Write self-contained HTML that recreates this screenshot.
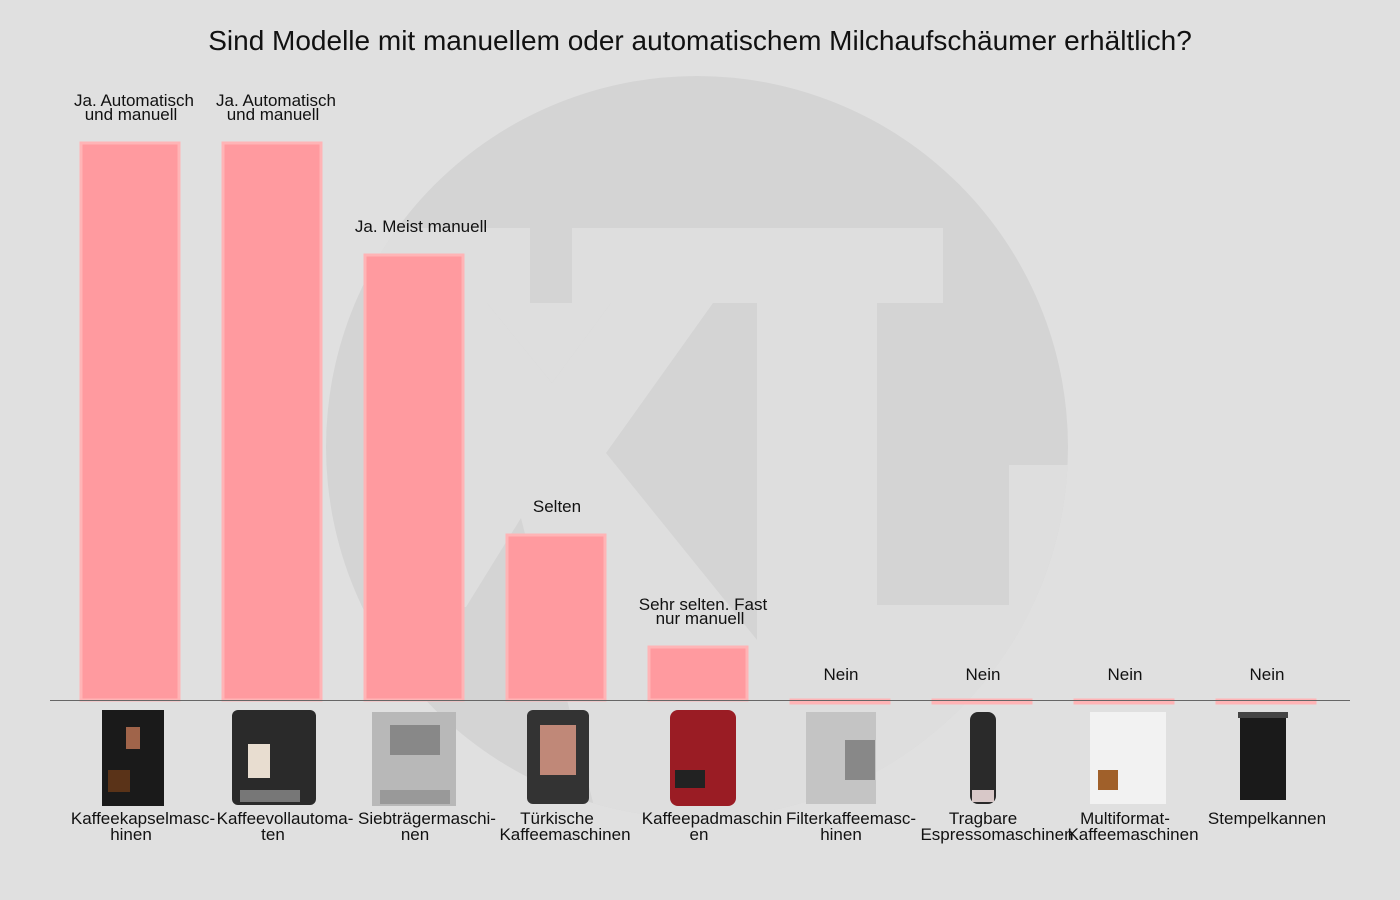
<!DOCTYPE html>
<html><head><meta charset="utf-8"><style>
html,body{margin:0;background:#e0e0e0;overflow:hidden;}
svg{display:block}
svg text{font-family:"Liberation Sans",sans-serif;fill:#111;}
</style></head><body>
<svg width="1400" height="900" viewBox="0 0 1400 900" xmlns="http://www.w3.org/2000/svg">
<defs><clipPath id="c"><circle cx="697" cy="447" r="371"/></clipPath></defs>
<rect width="1400" height="900" fill="#e0e0e0"/>
<circle cx="697" cy="447" r="371" fill="#d4d4d4"/>
<g clip-path="url(#c)" fill="#dedede">
<polygon points="364,228 530,228 530,303 487,303 552,383 611,303 572,303 572,228 943,228 943,303 364,303"/>
<rect x="364" y="303" width="102" height="304"/>
<polygon points="466,303 487,303 552,383 611,303 713,303 606,453 757,640 757,830 600,830 521,518 466,607"/>
<rect x="757" y="303" width="120" height="530"/>
<rect x="877" y="605" width="132" height="230"/>
<rect x="1009" y="465" width="100" height="370"/>
</g>
<text x="700" y="50" font-size="28" text-anchor="middle">Sind Modelle mit manuellem oder automatischem Milchaufschäumer erhältlich?</text>
<g fill="#ff9a9f" stroke="#ffb4b6" stroke-width="3">
<rect x="81" y="143" width="98" height="557"/>
<rect x="223" y="143" width="98" height="557"/>
<rect x="365" y="255" width="98" height="445"/>
<rect x="507" y="535" width="98" height="165"/>
<rect x="649" y="647" width="98" height="53"/>
<rect x="791" y="700" width="98" height="3"/>
<rect x="933" y="700" width="98" height="3"/>
<rect x="1075" y="700" width="98" height="3"/>
<rect x="1217" y="700" width="98" height="3"/>
</g>
<line x1="50" y1="700.5" x2="1350" y2="700.5" stroke="#666" stroke-width="1"/>
<g font-size="17" text-anchor="middle">
<text x="134" y="106">Ja. Automatisch</text><text x="131" y="120">und manuell</text>
<text x="276" y="106">Ja. Automatisch</text><text x="273" y="120">und manuell</text>
<text x="421" y="232">Ja. Meist manuell</text>
<text x="557" y="512">Selten</text>
<text x="703" y="610">Sehr selten. Fast</text><text x="700" y="624">nur manuell</text>
<text x="841" y="680">Nein</text><text x="983" y="680">Nein</text><text x="1125" y="680">Nein</text><text x="1267" y="680">Nein</text>
<text x="143" y="824">Kaffeekapselmasc-</text><text x="131" y="840">hinen</text>
<text x="285" y="824">Kaffeevollautoma-</text><text x="273" y="840">ten</text>
<text x="427" y="824">Siebträgermaschi-</text><text x="415" y="840">nen</text>
<text x="557" y="824">Türkische</text><text x="565" y="840">Kaffeemaschinen</text>
<text x="712" y="824">Kaffeepadmaschin</text><text x="699" y="840">en</text>
<text x="851" y="824">Filterkaffeemasc-</text><text x="841" y="840">hinen</text>
<text x="983" y="824">Tragbare</text><text x="997" y="840">Espressomaschinen</text>
<text x="1125" y="824">Multiformat-</text><text x="1133" y="840">Kaffeemaschinen</text>
<text x="1267" y="824">Stempelkannen</text>
</g>
<g>
<rect x="102" y="710" width="62" height="96" fill="#1a1a1a"/><rect x="126" y="727" width="14" height="22" fill="#a0644a"/><rect x="108" y="770" width="22" height="22" fill="#5a3318"/>
<rect x="232" y="710" width="84" height="95" rx="6" fill="#2a2a2a"/><rect x="248" y="744" width="22" height="34" fill="#e8ddd0"/><rect x="240" y="790" width="60" height="12" fill="#777"/>
<rect x="372" y="712" width="84" height="94" fill="#b8b8b8"/><rect x="390" y="725" width="50" height="30" fill="#888"/><rect x="380" y="790" width="70" height="14" fill="#999"/>
<rect x="527" y="710" width="62" height="94" rx="6" fill="#333"/><rect x="540" y="725" width="36" height="50" fill="#c08878"/>
<rect x="670" y="710" width="66" height="96" rx="8" fill="#9a1c24"/><rect x="675" y="770" width="30" height="18" fill="#222"/>
<rect x="806" y="712" width="70" height="92" fill="#c4c4c4"/><rect x="845" y="740" width="30" height="40" fill="#888"/>
<rect x="970" y="712" width="26" height="92" rx="8" fill="#2a2a2a"/><rect x="972" y="790" width="22" height="12" fill="#d8c8c8"/>
<rect x="1090" y="712" width="76" height="92" fill="#f2f2f2"/><rect x="1098" y="770" width="20" height="20" fill="#a0602a"/>
<rect x="1240" y="716" width="46" height="84" fill="#1a1a1a"/><rect x="1238" y="712" width="50" height="6" fill="#444"/>
</g>
</svg>
</body></html>
